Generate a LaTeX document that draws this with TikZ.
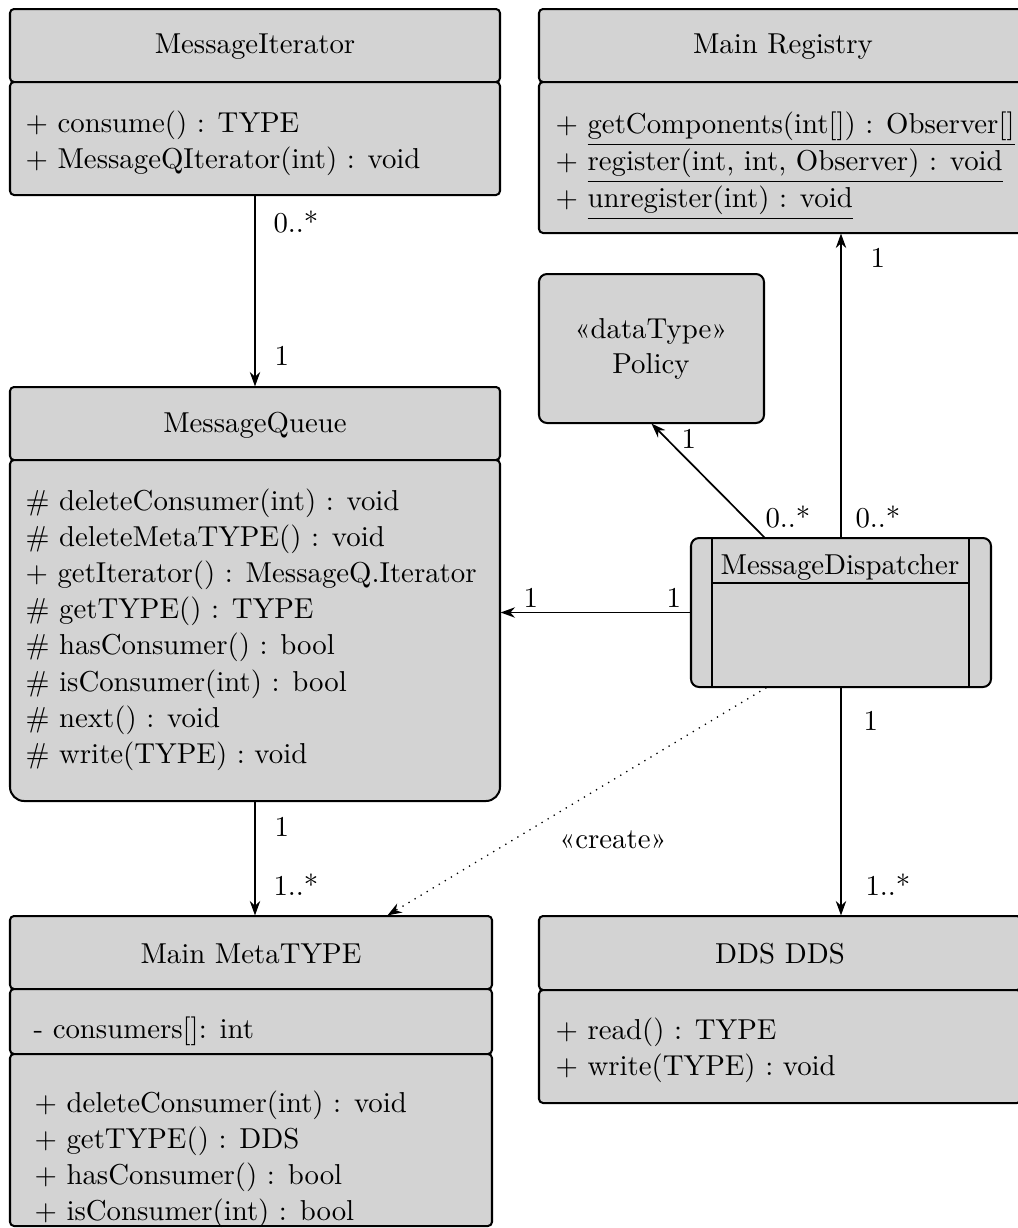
\documentclass[tikz,border=0pt]{standalone}
\usepackage{fontspec}
\usetikzlibrary{calc,fit,arrows.meta}
\definecolor{umlfill}{RGB}{211,211,211}
\tikzset{
  part/.style={fill=umlfill, draw=black, line width=0.7pt, rounded corners=1.4pt},
  holder/.style={inner sep=0pt, draw=none},
  txt/.style={inner sep=0pt, anchor=base west},
  ttl/.style={inner sep=0pt, anchor=base},
  assoc/.style={line width=0.6pt, -{Stealth[length=5pt,width=3.6pt,inset=1.6pt]}},
  dep/.style={line width=0.45pt, dotted, -{Stealth[length=5pt,width=3.6pt,inset=1.6pt]}},
}
\begin{document}
\begin{tikzpicture}[x=0.3472pt, y=-0.3472pt]
\useasboundingbox (0,0) rectangle (1018,1228);

% ---------- MessageIterator ----------
\draw[part] (10,9) rectangle (500,82);
\draw[part] (10,82) rectangle (500,195);
\node[holder, fit={(10,9)(500,195)}] (iter) {};
\node[ttl] (iterT) at (255,53) {MessageIterator};
\node[txt] (iter1) at (25,132) {+ consume() : TYPE};
\node[txt] (iter2) at (25,168) {+ MessageQIterator(int) : void};

% ---------- Main Registry ----------
\draw[part] (539,9) rectangle (1027,82);
\draw[part] (539,82) rectangle (1027,233);
\node[holder, fit={(539,9)(1027,233)}] (reg) {};
\node[ttl] (regT) at (783,53) {Main Registry};
\node[txt] (reg1) at (555,133) {+ \underline{getComponents(int[]) : Observer[]}};
\node[txt] (reg2) at (555,170) {+ \underline{register(int, int, Observer) : void}};
\node[txt] (reg3) at (555,207) {+ \underline{unregister(int) : void}};

% ---------- Policy ----------
\draw[part, rounded corners=2.8pt] (539,274) rectangle (764,423);
\node[holder, fit={(539,274)(764,423)}] (pol) {};
\node[ttl] (polS) at (651,338) {«dataType»};
\node[ttl] (polT) at (651,373) {Policy};

% ---------- MessageQueue ----------
\draw[part] (10,387) rectangle (500,460);
\draw[part] (10,630) [rounded corners=1.4pt] -- (10,460) -- (500,460) -- (500,630)
      [rounded corners=4.9pt] -- (500,801) -- (10,801) -- cycle;
\node[holder, fit={(10,387)(500,801)}] (queue) {};
\node[ttl] (queueT) at (255,432) {MessageQueue};
\node[txt] (q1) at (25,510) {\# deleteConsumer(int) : void};
\node[txt] (q2) at (25,546) {\# deleteMetaTYPE() : void};
\node[txt] (q3) at (25,582) {+ getIterator() : MessageQ.Iterator};
\node[txt] (q4) at (25,618) {\# getTYPE() : TYPE};
\node[txt] (q5) at (25,654) {\# hasConsumer() : bool};
\node[txt] (q6) at (25,691) {\# isConsumer(int) : bool};
\node[txt] (q7) at (25,727) {\# next() : void};
\node[txt] (q8) at (25,763) {\# write(TYPE) : void};

% ---------- MessageDispatcher ----------
\draw[part, rounded corners=2.8pt] (691,538) rectangle (991,687);
\draw[line width=0.7pt] (712,538) -- (712,687);
\draw[line width=0.7pt] (969,538) -- (969,687);
\draw[line width=0.7pt] (712,583) -- (969,583);
\node[holder, fit={(691,538)(991,687)}] (disp) {};
\node[ttl] (dispT) at (840,574) {MessageDispatcher};

% ---------- Main MetaTYPE ----------
\draw[part] (10,916) rectangle (492,989);
\draw[part] (10,989) rectangle (492,1054);
\draw[part] (10,1054) rectangle (492,1226);
\node[holder, fit={(10,916)(492,1226)}] (meta) {};
\node[ttl] (metaT) at (251,963) {Main MetaTYPE};
\node[txt] (m0) at (33,1038) {- consumers[]: int};
\node[txt] (m1) at (34,1112) {+ deleteConsumer(int) : void};
\node[txt] (m2) at (34,1148) {+ getTYPE() : DDS};
\node[txt] (m3) at (34,1184) {+ hasConsumer() : bool};
\node[txt] (m4) at (34,1220) {+ isConsumer(int) : bool};

% ---------- DDS DDS ----------
\draw[part] (539,916) rectangle (1021,990);
\draw[part] (539,990) rectangle (1021,1103);
\node[holder, fit={(539,916)(1021,1103)}] (dds) {};
\node[ttl] (ddsT) at (780,963) {DDS DDS};
\node[txt] (d1) at (555,1039) {+ read() : TYPE};
\node[txt] (d2) at (555,1075) {+ write(TYPE) : void};

% ---------- connectors ----------
\draw[assoc] (iter.south) -- (queue.north);
\draw[assoc] (disp.north) -- (disp.north |- reg.south);
\coordinate (dpol) at ($(disp.north west)+(74,0)$);
\draw[assoc] (dpol) -- (pol.south);
\draw[assoc] (disp.west) -- (disp.west -| queue.east);
\draw[assoc] (disp.south) -- (disp.south |- dds.north);
\draw[assoc] (queue.south) -- (queue.south |- meta.north);
\coordinate (dcr) at ($(disp.south west)+(76,0)$);
\coordinate (mcr) at ($(meta.north west)+(378,0)$);
\draw[dep] (dcr) -- (mcr);

% ---------- labels ----------
\node[txt] (l1) at (273,232) {0..*};
\node[txt] (l2) at (274,365) {1};
\node[txt] (l3) at (870,267) {1};
\node[txt] (l4) at (765,527) {0..*};
\node[txt] (l5) at (855,527) {0..*};
\node[txt] (l6) at (681,448) {1};
\node[txt] (l7) at (523,607) {1};
\node[txt] (l8) at (666,607) {1};
\node[txt] (l9) at (863,730) {1};
\node[txt] (l10) at (865,895) {1..*};
\node[txt] (l11) at (274,836) {1};
\node[txt] (l12) at (273,895) {1..*};
\node[ttl] (lc) at (613,848) {«create»};
\end{tikzpicture}
\end{document}
